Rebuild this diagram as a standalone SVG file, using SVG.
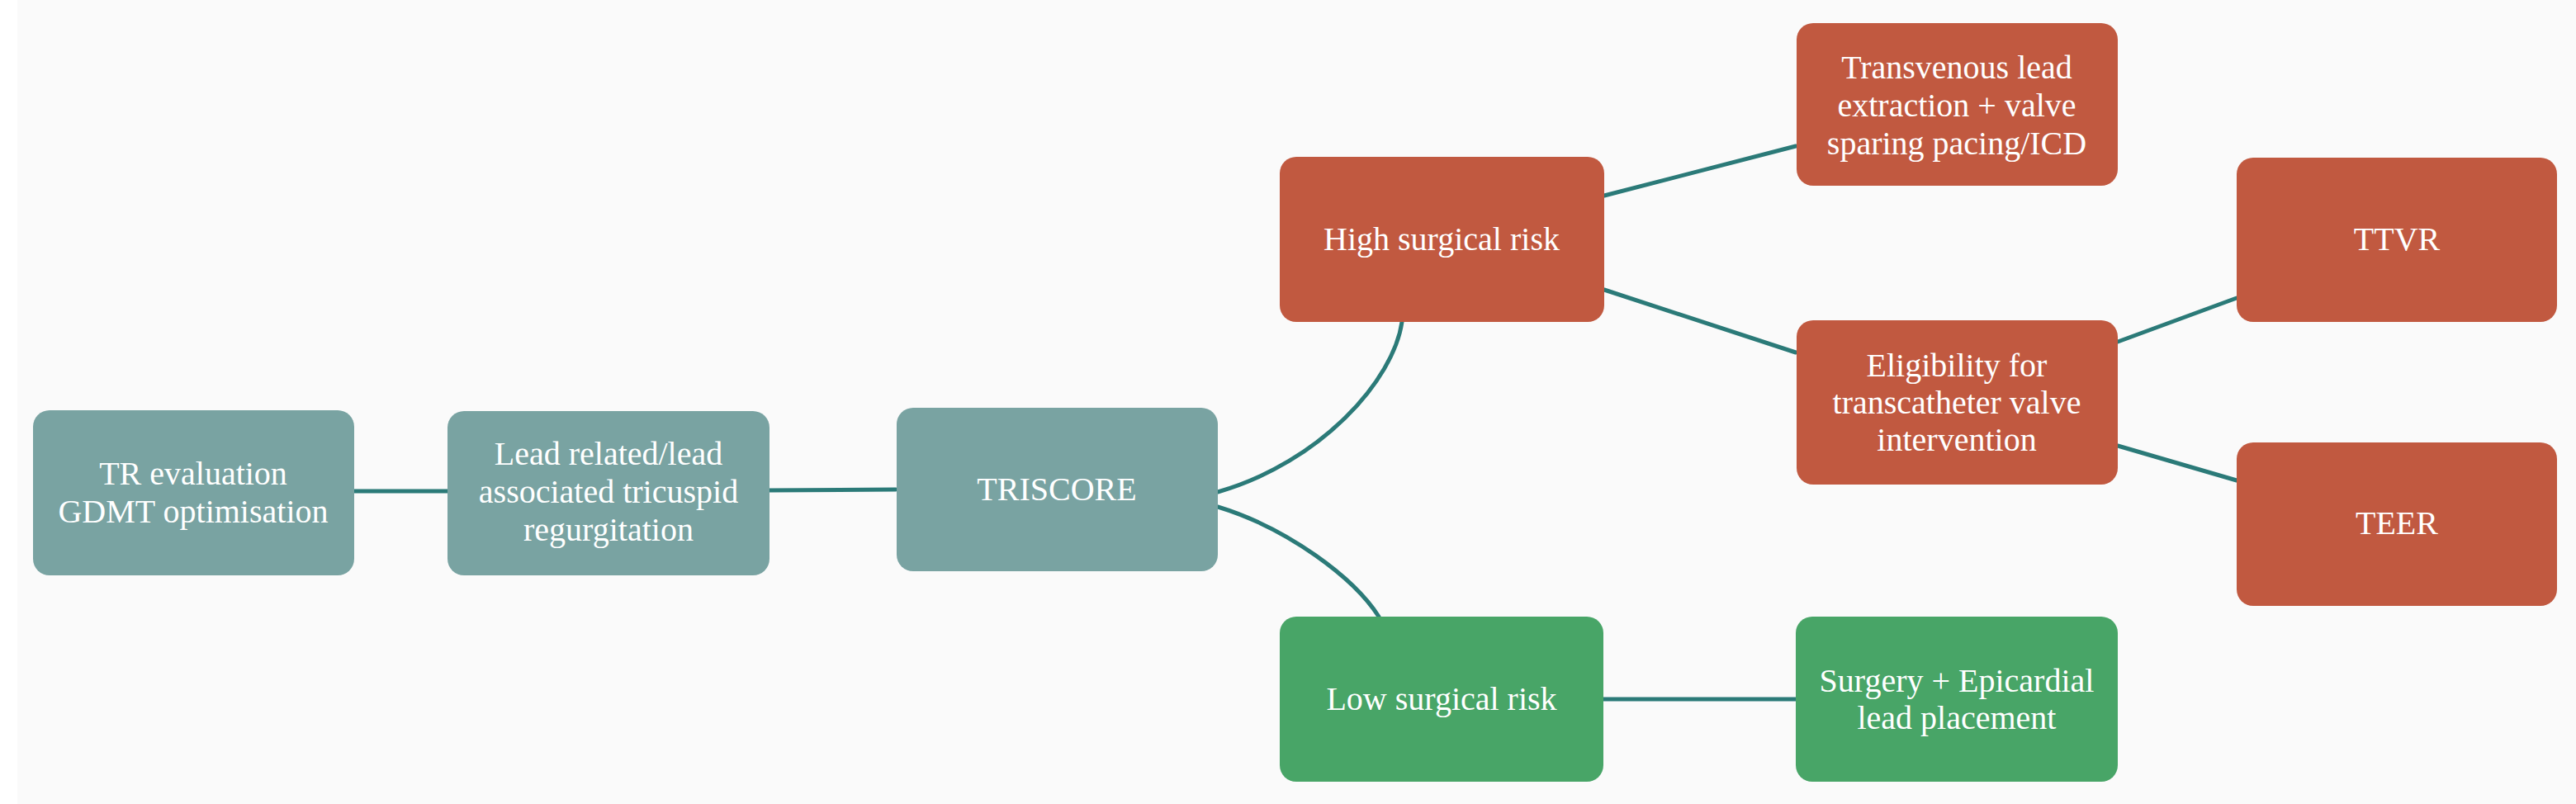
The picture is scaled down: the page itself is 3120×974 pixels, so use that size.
<svg xmlns="http://www.w3.org/2000/svg" width="3120" height="974" viewBox="0 0 3120 974">
<style>
.teal{fill:#79a3a2}
.red{fill:#c15940}
.green{fill:#48a567}
.t{font-family:"Liberation Serif","Times New Roman",serif;font-size:40px;fill:#ffffff;text-anchor:middle}
.c{fill:none;stroke:#2b7a78;stroke-width:5;stroke-linecap:round}
</style>
<rect x="0" y="0" width="3120" height="974" fill="#ffffff"/>
<rect x="21" y="0" width="3099" height="974" fill="#fafafa"/>
<g id="connectors">
<path class="c" d="M428,595 L543,595"/>
<path class="c" d="M931,594 L1085,593"/>
<path class="c" d="M1475,596 C1600,560 1688,460 1698,390"/>
<path class="c" d="M1475,614 C1560,640 1640,700 1670,747"/>
<path class="c" d="M1942,847 L2175,847"/>
<path class="c" d="M1943,237 L2175,177"/>
<path class="c" d="M1943,351 L2175,427"/>
<path class="c" d="M2565,414 L2709,361"/>
<path class="c" d="M2565,540 L2709,582"/>
</g>
<g id="tr-eval">
<rect class="teal" x="40" y="497" width="389" height="200" rx="20"/>
<text class="t" x="234" y="587">TR evaluation</text>
<text class="t" x="234" y="633">GDMT optimisation</text>
</g>
<g id="lead-related">
<rect class="teal" x="542" y="498" width="390" height="199" rx="20"/>
<text class="t" x="737" y="563">Lead related/lead</text>
<text class="t" x="737" y="609">associated tricuspid</text>
<text class="t" x="737" y="655">regurgitation</text>
</g>
<g id="triscore">
<rect class="teal" x="1086" y="494" width="389" height="198" rx="20"/>
<text class="t" x="1280" y="606">TRISCORE</text>
</g>
<g id="high-risk">
<rect class="red" x="1550" y="190" width="393" height="200" rx="20"/>
<text class="t" x="1746" y="303">High surgical risk</text>
</g>
<g id="low-risk">
<rect class="green" x="1550" y="747" width="392" height="200" rx="20"/>
<text class="t" x="1746" y="860">Low surgical risk</text>
</g>
<g id="transvenous">
<rect class="red" x="2176" y="28" width="389" height="197" rx="20"/>
<text class="t" x="2370" y="95">Transvenous lead</text>
<text class="t" x="2370" y="141">extraction + valve</text>
<text class="t" x="2370" y="187">sparing pacing/ICD</text>
</g>
<g id="eligibility">
<rect class="red" x="2176" y="388" width="389" height="199" rx="20"/>
<text class="t" x="2370" y="456">Eligibility for</text>
<text class="t" x="2370" y="501">transcatheter valve</text>
<text class="t" x="2370" y="546">intervention</text>
</g>
<g id="ttvr">
<rect class="red" x="2709" y="191" width="388" height="199" rx="20"/>
<text class="t" x="2903" y="303">TTVR</text>
</g>
<g id="teer">
<rect class="red" x="2709" y="536" width="388" height="198" rx="20"/>
<text class="t" x="2903" y="647">TEER</text>
</g>
<g id="surgery">
<rect class="green" x="2175" y="747" width="390" height="200" rx="20"/>
<text class="t" x="2370" y="838">Surgery + Epicardial</text>
<text class="t" x="2370" y="883">lead placement</text>
</g>
</svg>
